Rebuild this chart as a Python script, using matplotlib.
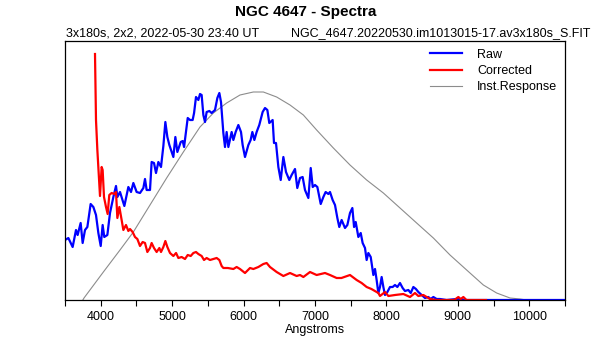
import numpy as np
import matplotlib.pyplot as plt

plt.rcParams['font.family'] = ['Liberation Sans', 'DejaVu Sans']

# Raw spectrum (wavelength in Angstroms, relative intensity)
raw_wl = [3500, 3547, 3607, 3654, 3677, 3719, 3747, 3780, 3813, 3859, 3897, 3934, 3967, 4000,
          4027, 4050, 4093, 4130, 4177, 4214, 4233, 4270, 4331, 4387, 4424, 4457, 4503, 4550,
          4597, 4620, 4643, 4690, 4713, 4746, 4774, 4807, 4844, 4877, 4905, 4933, 4961, 5017,
          5045, 5073, 5120, 5148, 5167, 5218, 5250, 5287, 5307, 5334, 5367, 5390, 5413, 5437,
          5460, 5483, 5521, 5553, 5600, 5633, 5661, 5684, 5717, 5740, 5763, 5787, 5833, 5857,
          5889, 5927, 5964, 5987, 6020, 6067, 6099, 6123, 6151, 6183, 6220, 6267, 6300, 6333,
          6360, 6407, 6426, 6454, 6487, 6520, 6557, 6594, 6640, 6673, 6720, 6752, 6790, 6827,
          6860, 6907, 6940, 6968, 7000, 7033, 7080, 7117, 7149, 7187, 7210, 7247, 7280, 7313,
          7340, 7373, 7420, 7453, 7490, 7523, 7547, 7570, 7607, 7640, 7667, 7700, 7723, 7747,
          7780, 7817, 7840, 7863, 7887, 7910, 7933, 7957, 7980, 8013, 8050, 8087, 8120, 8153,
          8190, 8227, 8260, 8307, 8340, 8377, 8413, 8447, 8493, 8540, 8587, 8620, 8657, 8703,
          8750, 8843, 8983, 9030, 9100, 10500]
raw_flux = [60, 62, 53, 70, 65, 77, 57, 70, 73, 96, 93, 85, 67, 54,
            75, 63, 65, 87, 103, 114, 103, 108, 94, 113, 108, 117, 108, 107,
            112, 121, 110, 110, 138, 137, 127, 138, 133, 154, 178, 163, 155, 143,
            163, 148, 158, 159, 153, 182, 180, 180, 187, 203, 200, 206, 205, 185,
            178, 188, 189, 187, 190, 202, 207, 198, 167, 153, 168, 153, 168, 160,
            168, 175, 168, 155, 143, 155, 160, 168, 160, 168, 175, 188, 192, 190,
            177, 180, 157, 157, 133, 120, 143, 128, 120, 125, 131, 112, 122, 123,
            110, 102, 132, 113, 115, 113, 96, 103, 108, 106, 108, 100, 95, 82,
            73, 80, 72, 75, 87, 92, 73, 78, 63, 67, 57, 52, 40, 47,
            43, 25, 31, 20, 7, 13, 23, 13, 5, 8, 13, 13, 15, 13,
            17, 12, 9, 10, 7, 13, 11, 8, 5, 2, 3, 1, 3, 1,
            1, 0, 1, 1, 0, 0]

# Corrected spectrum
cor_wl = [3920, 3934, 3953, 3990, 4013, 4027, 4046, 4074, 4097, 4120, 4153, 4190, 4214, 4233,
          4261, 4293, 4317, 4354, 4387, 4410, 4447, 4480, 4513, 4550, 4587, 4620, 4653, 4690,
          4713, 4746, 4783, 4821, 4844, 4877, 4905, 4933, 4970, 5017, 5055, 5087, 5133, 5180,
          5218, 5260, 5297, 5334, 5367, 5413, 5446, 5483, 5530, 5577, 5623, 5661, 5693, 5717,
          5780, 5857, 5903, 5950, 6020, 6090, 6137, 6207, 6277, 6323, 6370, 6463, 6557, 6650,
          6743, 6790, 6837, 6930, 7023, 7140, 7210, 7303, 7370, 7490, 7583, 7653, 7723, 7790,
          7887, 7910, 7980, 8027, 8120, 8237, 8330, 8400, 8447, 8517, 8610, 8700, 8850, 8950,
          9007, 9040, 9077, 9120, 9394]
cor_flux = [246, 180, 150, 104, 133, 130, 103, 93, 86, 105, 107, 106, 108, 82,
            93, 80, 70, 75, 69, 71, 68, 63, 61, 54, 58, 57, 48, 52,
            57, 52, 48, 52, 48, 53, 59, 53, 47, 44, 47, 42, 43, 41,
            45, 44, 47, 48, 46, 44, 40, 42, 40, 41, 42, 40, 34, 32,
            32, 31, 33, 31, 27, 32, 31, 33, 36, 37, 33, 28, 24, 27,
            24, 25, 23, 28, 25, 27, 25, 22, 22, 25, 20, 17, 13, 11,
            7, 4, 8, 4, 5, 6, 3, 7, 4, 5, 1, 0, 0, 0,
            3, 1, 3, 0, 0]

# Instrument response
inst_wl = [3750, 3766, 4037, 4270, 4457, 4690, 4923, 5157, 5390, 5577, 5763, 5950, 6137, 6277,
           6463, 6650, 6837, 7023, 7257, 7490, 7723, 7957, 8190, 8423, 8657, 8890, 9123, 9357,
           9543, 9730, 9870, 9960]
inst_flux = [0, 2, 28, 50, 68, 95, 122, 148, 173, 187, 197, 205, 208, 208,
             203, 195, 185, 170, 152, 135, 120, 107, 92, 77, 62, 45, 30, 15,
             7, 2, 1, 0]

fig = plt.figure(figsize=(6.15, 3.4), dpi=100)
ax = fig.add_axes([65 / 615, 40 / 340, 500 / 615, 259 / 340])

g, = ax.plot(inst_wl, inst_flux, color='#8c8c8c', lw=0.8, label='Inst.Response')
b, = ax.plot(raw_wl, raw_flux, color='#0000ff', lw=1.6, label='Raw')
r, = ax.plot(cor_wl, cor_flux, color='#ff0000', lw=1.6, label='Corrected')

ax.set_xlim(3500, 10500)
ax.set_ylim(0, 259)
ax.set_xticks(range(4000, 10001, 1000))
ax.set_xticks(range(3500, 10501, 500), minor=True)
ax.tick_params(axis='x', which='both', direction='out', length=4, width=0.8, labelsize=9, pad=4)
ax.set_yticks([])
for s in ax.spines.values():
    s.set_linewidth(0.9)
ax.set_xlabel('Angstroms', fontsize=9, labelpad=1)

ax.legend(handles=[b, r, g], loc='upper right', frameon=False, fontsize=9,
          handlelength=2.6, labelspacing=0.35, borderaxespad=0.2, handletextpad=1.2)

fig.text(306 / 615, 1 - 12 / 340, 'NGC 4647 - Spectra', ha='center', va='center',
         fontsize=11, fontweight='bold')
fig.text(66 / 615, 1 - 33 / 340, '3x180s, 2x2, 2022-05-30 23:40 UT', ha='left', va='center', fontsize=9)
fig.text(590 / 615, 1 - 33 / 340, 'NGC_4647.20220530.im1013015-17.av3x180s_S.FIT',
         ha='right', va='center', fontsize=9)

fig.savefig('out.png', dpi=100)
